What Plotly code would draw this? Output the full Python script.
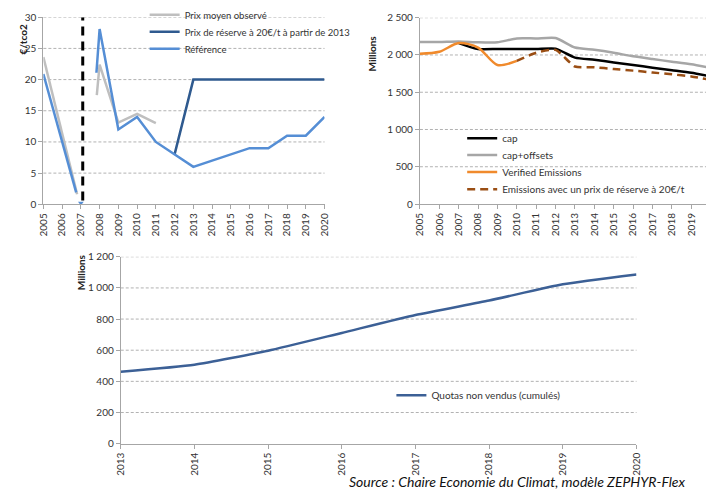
import plotly.graph_objects as go

W, H = 711, 496

# ---------------- Data ----------------
years = list(range(2005, 2021))
year_labels = [str(y) for y in years]

# Price chart (€/tCO2)
obs_x = [2005, 2006.8, None, 2007.85, 2008, 2009, 2010, 2011]
obs_y = [23.6, 1.6, None, 17.5, 22.4, 13.1, 14.5, 13.0]

res_x = [2012, 2013, 2014, 2015, 2016, 2017, 2018, 2019, 2020]
res_y = [8, 20, 20, 20, 20, 20, 20, 20, 20]

ref_x = [2005, 2006.75, None, 2007.83, 2008, 2009, 2010, 2011, 2012, 2013,
         2014, 2015, 2016, 2017, 2018, 2019, 2020]
ref_y = [20.9, 1.9, None, 21.1, 28.1, 12.0, 14.0, 10.0, 8.0, 6.0,
         7.0, 8.0, 9.0, 9.0, 11.0, 11.0, 14.0]

ref_dot_x = [2007]
ref_dot_y = [0.2]

phase_x = [2007.1, 2007.1]
phase_y = [0.6, 30]

price_ticks = [0, 5, 10, 15, 20, 25, 30]

# Emissions chart (Millions)
cap_x = list(range(2007, 2021))
cap_y = [2160, 2080, 2080, 2080, 2080, 2085, 1965, 1935, 1900, 1865, 1830, 1795, 1760, 1712]

capoff_x = years
capoff_y = [2175, 2175, 2182, 2170, 2170, 2222, 2222, 2228, 2100, 2070, 2030, 1982, 1945, 1910, 1875, 1828]

verif_x = [2005, 2006, 2007, 2008, 2009, 2010]
verif_y = [2017, 2043, 2160, 2100, 1865, 1920]

resem_x = list(range(2010, 2021))
resem_y = [1920, 2030, 2068, 1845, 1835, 1812, 1790, 1765, 1740, 1712, 1665]

em_ticks = [0, 500, 1000, 1500, 2000, 2500]
em_labels = ["0", "500", "1 000", "1 500", "2 000", "2 500"]

# Cumulative unsold quotas (Millions)
quota_x = list(range(2013, 2021))
quota_y = [462, 507, 597, 711, 826, 919, 1023, 1086]
quota_ticks = [0, 200, 400, 600, 800, 1000, 1200]
quota_labels = ["0", "200", "400", "600", "800", "1 000", "1 200"]

# ---------------- Helpers ----------------
def px_x(p):
    return p / W

def px_y(p):
    return 1 - p / H

FONT = "Lato, Open Sans, sans-serif"
TXT = "#333333"
AXC = "#A6A6A6"
GRID = "#B2B2B2"

fig = go.Figure()

# Price chart traces
fig.add_trace(go.Scatter(x=obs_x, y=obs_y, mode="lines", name="Prix moyen observé",
                         line=dict(color="#BFBFBF", width=2.5), xaxis="x", yaxis="y",
                         legend="legend", connectgaps=False))
fig.add_trace(go.Scatter(x=res_x, y=res_y, mode="lines", name="Prix de réserve à 20€/t à partir de 2013",
                         line=dict(color="#2F5A8F", width=2.5), xaxis="x", yaxis="y",
                         legend="legend2"))
fig.add_trace(go.Scatter(x=ref_x, y=ref_y, mode="lines", name="Référence",
                         line=dict(color="#558ED5", width=2.5), xaxis="x", yaxis="y",
                         legend="legend3", connectgaps=False))
fig.add_trace(go.Scatter(x=ref_dot_x, y=ref_dot_y, mode="markers", showlegend=False,
                         marker=dict(color="#558ED5", size=5, symbol="triangle-down"),
                         xaxis="x", yaxis="y"))
fig.add_trace(go.Scatter(x=phase_x, y=phase_y, mode="lines", showlegend=False,
                         line=dict(color="black", width=3, dash="9px,6px"),
                         xaxis="x", yaxis="y"))

# Emissions chart traces
fig.add_trace(go.Scatter(x=cap_x, y=cap_y, mode="lines", name="cap",
                         line=dict(color="black", width=2.5, shape="spline", smoothing=0.6),
                         xaxis="x2", yaxis="y2", legend="legend4"))
fig.add_trace(go.Scatter(x=capoff_x, y=capoff_y, mode="lines", name="cap+offsets",
                         line=dict(color="#A6A6A6", width=2.5, shape="spline", smoothing=0.6),
                         xaxis="x2", yaxis="y2", legend="legend5"))
fig.add_trace(go.Scatter(x=verif_x, y=verif_y, mode="lines", name="Verified Emissions",
                         line=dict(color="#F08A2C", width=2.5, shape="spline", smoothing=0.8),
                         xaxis="x2", yaxis="y2", legend="legend6"))
fig.add_trace(go.Scatter(x=resem_x, y=resem_y, mode="lines", name="Emissions avec un prix de réserve à 20€/t",
                         line=dict(color="#9A4E14", width=2.5, dash="8px,5px", shape="spline", smoothing=0.6),
                         xaxis="x2", yaxis="y2", legend="legend7"))

# Quotas chart
fig.add_trace(go.Scatter(x=quota_x, y=quota_y, mode="lines", name="Quotas non vendus (cumulés)",
                         line=dict(color="#3C6096", width=2.5, shape="spline", smoothing=0.5),
                         xaxis="x3", yaxis="y3", legend="legend8"))

axis_common = dict(showline=True, linecolor=AXC, linewidth=1, ticks="outside", ticklen=4,
                   tickcolor=AXC, zeroline=False, showgrid=False,
                   tickfont=dict(family=FONT, size=10, color=TXT))


def leg(xpx, ypx, size=10):
    return dict(x=px_x(xpx), y=px_y(ypx), xanchor="left", yanchor="middle",
                bgcolor="rgba(0,0,0,0)", font=dict(family=FONT, size=size, color=TXT),
                itemwidth=30)


# dashed horizontal gridlines derived from the tick lists
shapes = []
for xr, yr, ticks in (("x", "y", price_ticks), ("x2", "y2", em_ticks), ("x3", "y3", quota_ticks)):
    for v in ticks[1:]:
        shapes.append(dict(type="line", xref=f"{xr} domain", yref=yr, x0=0, x1=1, y0=v, y1=v,
                           layer="below", line=dict(color=GRID, width=1, dash="3px,2px")))

fig.update_layout(
    width=W, height=H, autosize=False,
    margin=dict(l=0, r=0, t=0, b=0),
    paper_bgcolor="white", plot_bgcolor="rgba(0,0,0,0)",
    font=dict(family=FONT, size=10, color=TXT),
    shapes=shapes,
    xaxis=dict(domain=[px_x(37), px_x(323)], anchor="y", range=[2005, 2020],
               tickmode="array", tickvals=years, ticktext=year_labels, tickangle=-90,
               **axis_common),
    yaxis=dict(domain=[px_y(202), px_y(9.5)], anchor="x", range=[0, 30],
               tickmode="array", tickvals=price_ticks, **axis_common),
    xaxis2=dict(domain=[px_x(420), 1.0], anchor="y2", range=[2005, 2019.76],
                tickmode="array", tickvals=years, ticktext=year_labels, tickangle=-90,
                **axis_common),
    yaxis2=dict(domain=[px_y(201.7), px_y(10)], anchor="x2", range=[0, 2500],
                tickmode="array", tickvals=em_ticks, ticktext=em_labels, **axis_common),
    xaxis3=dict(domain=[px_x(115.7), px_x(640.3)], anchor="y3", range=[2013, 2020],
                tickmode="array", tickvals=quota_x, ticktext=[str(v) for v in quota_x], tickangle=-90,
                **axis_common),
    yaxis3=dict(domain=[px_y(448.3), px_y(256)], anchor="x3", range=[0, 1200],
                tickmode="array", tickvals=quota_ticks, ticktext=quota_labels, **axis_common),
    legend=leg(140, 7, 9.5),
    legend2=leg(140, 24.5, 9.5),
    legend3=leg(140, 42, 9.5),
    legend4=leg(463, 134),
    legend5=leg(463, 151.3),
    legend6=leg(463, 168.8),
    legend7=leg(463, 186.5),
    legend8=leg(391, 398.5),
    annotations=[
        dict(text="<b>€/tco2</b>", x=px_x(8), y=px_y(15), xref="paper", yref="paper",
             showarrow=False, textangle=-90, font=dict(family=FONT, size=10, color="#222")),
        dict(text="<b>Millions</b>", x=px_x(371.5), y=px_y(26), xref="paper", yref="paper",
             showarrow=False, textangle=-90, font=dict(family=FONT, size=10, color="#222")),
        dict(text="<b>Millions</b>", x=px_x(67), y=px_y(272), xref="paper", yref="paper",
             showarrow=False, textangle=-90, font=dict(family=FONT, size=10, color="#222")),
        dict(text="<i>Source : Chaire Economie du Climat, modèle ZEPHYR-Flex</i>",
             x=px_x(519), y=px_y(487), xref="paper", yref="paper", showarrow=False,
             xanchor="center", yanchor="middle",
             font=dict(family=FONT, size=14, color="#111")),
    ],
)

fig.write_html("out.html")
